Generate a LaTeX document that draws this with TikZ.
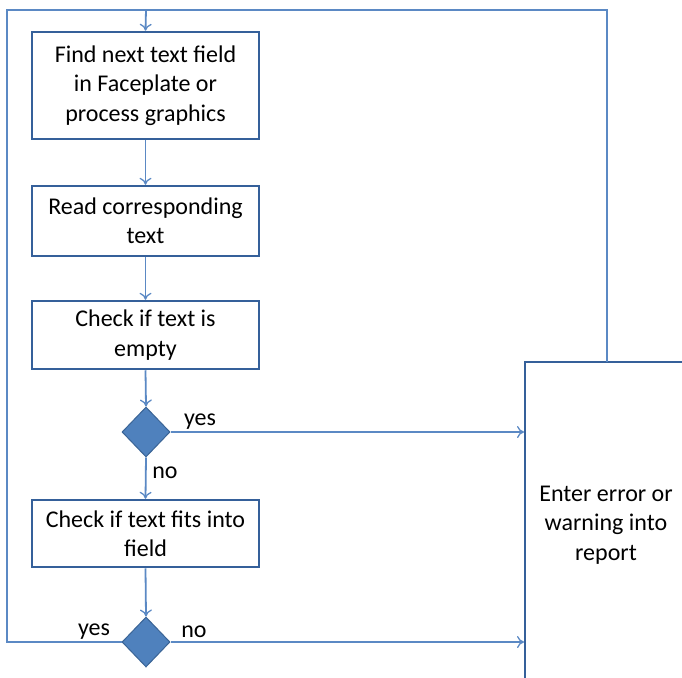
\documentclass[tikz,border=0pt]{standalone}
\usepackage{fontspec}
\setmainfont{Carlito}
\usetikzlibrary{arrows.meta,shapes.geometric}
\definecolor{boxline}{HTML}{35609A}
\definecolor{flow}{HTML}{5B89C4}
\definecolor{decfill}{HTML}{4F81BD}
\definecolor{decline}{HTML}{3A6496}
\tikzset{
  stepbox/.style={draw=boxline, line width=2.5pt, fill=white, inner sep=0pt, align=center,
    font=\fontsize{24}{29.5}\selectfont},
  decision/.style={diamond, draw=decline, line width=1pt, fill=decfill, inner sep=0pt,
    minimum width=48pt, minimum height=50pt},
  flowline/.style={draw=flow, line width=1.8pt},
  flowarrow/.style={flowline, -{To[length=7pt,width=12pt,line width=1.3pt]}},
  lbl/.style={font=\fontsize{24}{29.5}\selectfont, inner sep=0pt},
}
\begin{document}
\begin{tikzpicture}[x=1pt,y=-1pt]
  \useasboundingbox (0,0) rectangle (682,677);
  \clip (0,0) rectangle (682,677);

  % process steps
  \node[stepbox, minimum width=227pt, minimum height=107pt] (find) at (145.5,85.5)
    {\raisebox{-3pt}{\parbox{220pt}{\centering Find next text field\\in Faceplate or\\process graphics}}};
  \node[stepbox, minimum width=227pt, minimum height=70pt] (read) at (145.5,221)
    {\raisebox{-2pt}{\parbox{220pt}{\centering Read corresponding\\text}}};
  \node[stepbox, minimum width=227pt, minimum height=68pt] (empty) at (145.5,335)
    {\raisebox{-2pt}{\parbox{220pt}{\centering Check if text is\\empty}}};
  \node[decision] (d1) at (146,432) {};
  \node[stepbox, minimum width=227pt, minimum height=67pt] (fits) at (145.5,533.5)
    {\raisebox{-2pt}{\parbox{220pt}{\centering Check if text fits into\\field}}};
  \node[decision] (d2) at (146,642) {};

  % report box, running past the lower right edge
  \draw[draw=boxline, line width=2.5pt, fill=white] (525,362) rectangle (700,700);
  \node[lbl, align=center] (report) at (606,525)
    {Enter error or\\warning into\\report};
  \coordinate (rtop) at (607,362);
  \coordinate (in1) at (524,432);
  \coordinate (in2) at (524,642);

  % loop back to the top
  \coordinate (tl) at (7,10);
  \coordinate (tr) at (607,10);
  \coordinate (topin) at (146,10);
  \draw[flowline] (rtop) -- (tr) -- (tl) -- (7,642) -- (d2.west);
  \draw[flowarrow] (topin) -- (find.north);

  % main flow
  \draw[flowarrow] (find.south) -- (read.north);
  \draw[flowarrow] (read.south) -- (empty.north);
  \draw[flowarrow] (empty.south) -- (d1.north);
  \draw[flowarrow] (d1.south) -- (fits.north);
  \draw[flowarrow] (fits.south) -- (d2.north);
  \draw[flowarrow] (d1.east) -- (in1);
  \draw[flowarrow] (d2.east) -- (in2);

  % branch labels
  \node[lbl] (y1) at (200,422) {yes};
  \node[lbl] (n1) at (165,473) {no};
  \node[lbl] (y2) at (94,632) {yes};
  \node[lbl] (n2) at (194,632) {no};
\end{tikzpicture}
\end{document}
